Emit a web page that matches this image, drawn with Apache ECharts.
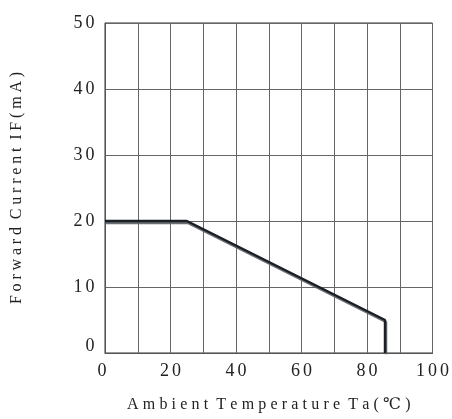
<!DOCTYPE html>
<html><head><meta charset="utf-8">
<script src="https://cdn.jsdelivr.net/npm/echarts@6/dist/echarts.min.js"></script>
<style>html,body{margin:0;padding:0;background:#fff}#c{width:452px;height:419px}</style>
</head><body><div id="c"></div>
<script>
const temps = [0, 25, 85.5, 85.5];
const currents = [20, 20, 5, 0];
const xTickLabels = ['0','20','40','60','80','100'];
const yTickLabels = ['0','10','20','30','40','50'];
const xTitle = 'Ambient Temperature Ta(℃)';
const yTitle = 'Forward Current IF(mA)';

const font = '"Liberation Serif", "DejaVu Serif", serif';
const spaced = (s, st) => s.split('').map(c => c === ' ' ? '{w| }' : '{' + st + '|' + c + '}').join('');
const tickRich = {
  d: {fontFamily: font, fontSize: 18, color: '#222', padding: [0, 1.5, 0, 1.5]},
  z: {fontFamily: font, fontSize: 18, color: '#222', padding: [0, 1.5, 0, 1.5]}
};
const chart = echarts.init(document.getElementById('c'));
chart.setOption({
  animation: false,
  grid: {left: 105, right: 19, top: 23, bottom: 66, show: true, borderColor: '#333', borderWidth: 1},
  xAxis: {
    type: 'value', min: 0, max: 100, interval: 10,
    name: spaced(xTitle, 's'), nameLocation: 'middle', nameGap: 44,
    nameTextStyle: {fontFamily: font, fontSize: 16, color: '#222',
      rich: {s: {fontFamily: font, fontSize: 16, color: '#222', padding: [0, 2.1, 0, 2.1]},
             w: {fontFamily: font, fontSize: 16, color: '#222'}}},
    axisLine: {lineStyle: {color: '#555'}},
    axisTick: {show: false},
    axisLabel: {fontFamily: font, fontSize: 18, color: '#222', margin: 9,
      formatter: v => v === 0 ? '{z|0}{w| }' : (xTickLabels.includes(String(v)) ? spaced(String(v), 'd') : ''),
      rich: Object.assign({}, tickRich, {w: {fontSize: 8, padding: [0, 4, 0, 0]}})},
    splitLine: {lineStyle: {color: '#666', width: 1}}
  },
  yAxis: {
    type: 'value', min: 0, max: 50, interval: 10,
    name: spaced(yTitle, 's'), nameLocation: 'middle', nameGap: 80,
    nameTextStyle: {fontFamily: font, fontSize: 16, color: '#222',
      rich: {s: {fontFamily: font, fontSize: 16, color: '#222', padding: [0, 1.9, 0, 1.9]},
             w: {fontFamily: font, fontSize: 16, color: '#222'}}},
    axisLine: {show: true, lineStyle: {color: '#555'}},
    axisTick: {show: false},
    axisLabel: {fontFamily: font, fontSize: 18, color: '#222', margin: 9,
      formatter: v => v === 0 ? '{y|0}' : (yTickLabels.includes(String(v)) ? spaced(String(v), 'd') : ''),
      rich: Object.assign({}, tickRich, {y: {fontFamily: font, fontSize: 18, color: '#222', padding: [0, 1.5, 14, 1.5]}})},
    splitLine: {lineStyle: {color: '#666', width: 1}}
  },
  series: [{
    type: 'line', symbol: 'none',
    data: temps.map((t, i) => [t, currents[i]]),
    lineStyle: {color: '#1a1f26', width: 2.5, shadowColor: 'rgba(90,95,100,0.9)', shadowOffsetX: 1, shadowOffsetY: 2, shadowBlur: 0}
  }]
});
</script></body></html>
